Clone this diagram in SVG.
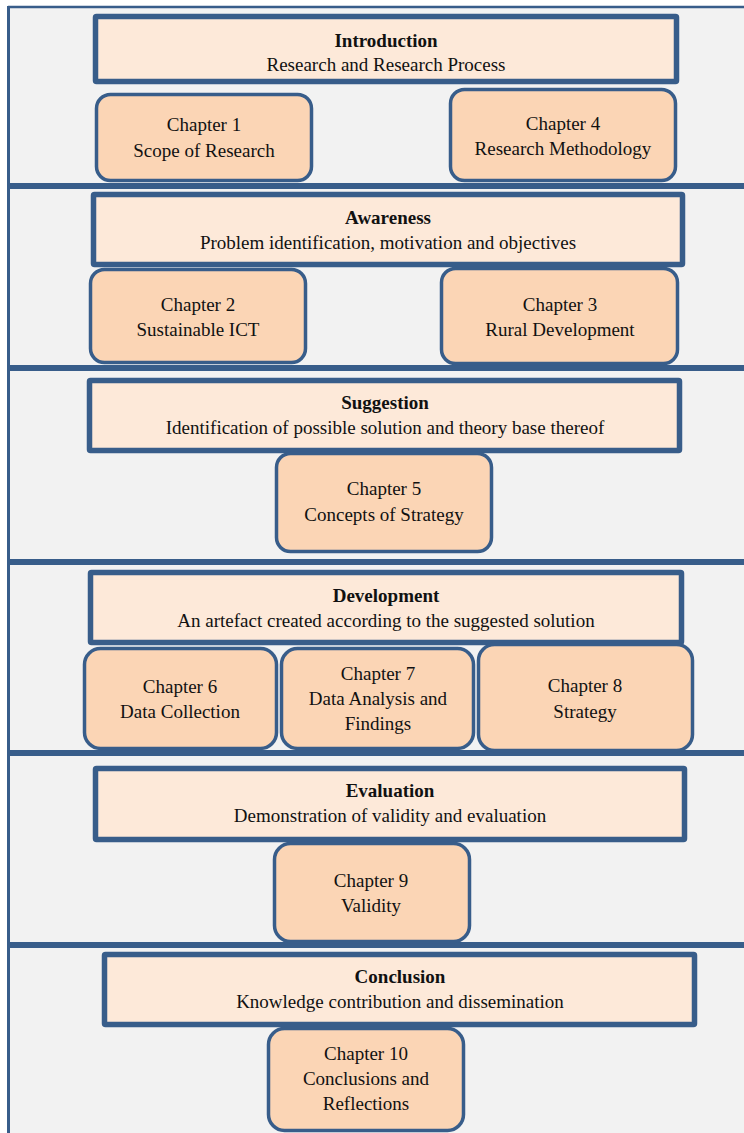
<svg xmlns="http://www.w3.org/2000/svg" width="744" height="1133" viewBox="0 0 744 1133">
<style>
.bg{fill:#f2f2f2}
.line{stroke:#385d8a;fill:none}
.sep{stroke:#385d8a;stroke-width:6px}
.hdr{fill:#fde9d9;stroke:#385d8a;stroke-width:5.5px}
.ch{fill:#fbd5b5;stroke:#385d8a;stroke-width:3.5px}
text{font-family:"Liberation Serif","Times New Roman",serif;font-size:19px;fill:#111;text-anchor:middle}
.b{font-weight:bold}
</style>
<rect x="0" y="0" width="744" height="1133" fill="#ffffff"/>
<rect class="bg" x="8" y="7" width="736" height="1126"/>
<g id="frame">
<line class="line" x1="8" y1="7" x2="744" y2="7" stroke-width="2.5"/>
<line class="line" x1="8.5" y1="6" x2="8.5" y2="1133" stroke-width="3"/>
<line class="sep" x1="7" y1="186" x2="744" y2="186" stroke-width="6"/>
<line class="sep" x1="7" y1="368" x2="744" y2="368" stroke-width="6"/>
<line class="sep" x1="7" y1="562" x2="744" y2="562" stroke-width="6"/>
<line class="sep" x1="7" y1="753" x2="744" y2="753" stroke-width="6"/>
<line class="sep" x1="7" y1="945" x2="744" y2="945" stroke-width="6"/>
</g>
<g id="introduction">
<rect class="hdr" x="95.5" y="16.5" width="581" height="65" rx="1"/>
<text class="b" x="386" y="47">Introduction</text>
<text x="386" y="71">Research and Research Process</text>
</g>
<g id="chapter1">
<rect class="ch" x="96.5" y="94.5" width="215" height="86" rx="14"/>
<text x="204" y="131">Chapter 1</text>
<text x="204" y="157">Scope of Research</text>
</g>
<g id="chapter4">
<rect class="ch" x="450.5" y="89.5" width="225" height="91" rx="14"/>
<text x="563" y="130">Chapter 4</text>
<text x="563" y="155">Research Methodology</text>
</g>
<g id="awareness">
<rect class="hdr" x="93.5" y="194.5" width="589" height="70" rx="1"/>
<text class="b" x="388" y="224">Awareness</text>
<text x="388" y="249">Problem identification, motivation and objectives</text>
</g>
<g id="chapter2">
<rect class="ch" x="90.5" y="269.5" width="215" height="93" rx="14"/>
<text x="198" y="311">Chapter 2</text>
<text x="198" y="336">Sustainable ICT</text>
</g>
<g id="chapter3">
<rect class="ch" x="441.5" y="268.5" width="236" height="95" rx="14"/>
<text x="560" y="311">Chapter 3</text>
<text x="560" y="336">Rural Development</text>
</g>
<g id="suggestion">
<rect class="hdr" x="89.5" y="380.5" width="590" height="70" rx="1"/>
<text class="b" x="385" y="409">Suggestion</text>
<text x="385" y="434">Identification of possible solution and theory base thereof</text>
</g>
<g id="chapter5">
<rect class="ch" x="276.5" y="453.5" width="215" height="98" rx="14"/>
<text x="384" y="495">Chapter 5</text>
<text x="384" y="521">Concepts of Strategy</text>
</g>
<g id="development">
<rect class="hdr" x="90.5" y="572.5" width="591" height="70" rx="1"/>
<text class="b" x="386" y="602">Development</text>
<text x="386" y="627">An artefact created according to the suggested solution</text>
</g>
<g id="chapter6">
<rect class="ch" x="84.5" y="648.5" width="192" height="100" rx="16"/>
<text x="180" y="693">Chapter 6</text>
<text x="180" y="718">Data Collection</text>
</g>
<g id="chapter7">
<rect class="ch" x="281.5" y="648.5" width="192" height="100" rx="16"/>
<text x="378" y="680">Chapter 7</text>
<text x="378" y="705">Data Analysis and</text>
<text x="378" y="730">Findings</text>
</g>
<g id="chapter8">
<rect class="ch" x="478.5" y="644.5" width="214" height="106" rx="16"/>
<text x="585" y="692">Chapter 8</text>
<text x="585" y="718">Strategy</text>
</g>
<g id="evaluation">
<rect class="hdr" x="95.5" y="768.5" width="589" height="71" rx="1"/>
<text class="b" x="390" y="797">Evaluation</text>
<text x="390" y="822">Demonstration of validity and evaluation</text>
</g>
<g id="chapter9">
<rect class="ch" x="274.5" y="843.5" width="195" height="98" rx="16"/>
<text x="371" y="887">Chapter 9</text>
<text x="371" y="912">Validity</text>
</g>
<g id="conclusion">
<rect class="hdr" x="104.5" y="954.5" width="590" height="70" rx="1"/>
<text class="b" x="400" y="983">Conclusion</text>
<text x="400" y="1008">Knowledge contribution and dissemination</text>
</g>
<g id="chapter10">
<rect class="ch" x="268.5" y="1028.5" width="195" height="102" rx="16"/>
<text x="366" y="1060">Chapter 10</text>
<text x="366" y="1085">Conclusions and</text>
<text x="366" y="1110">Reflections</text>
</g>
</svg>
